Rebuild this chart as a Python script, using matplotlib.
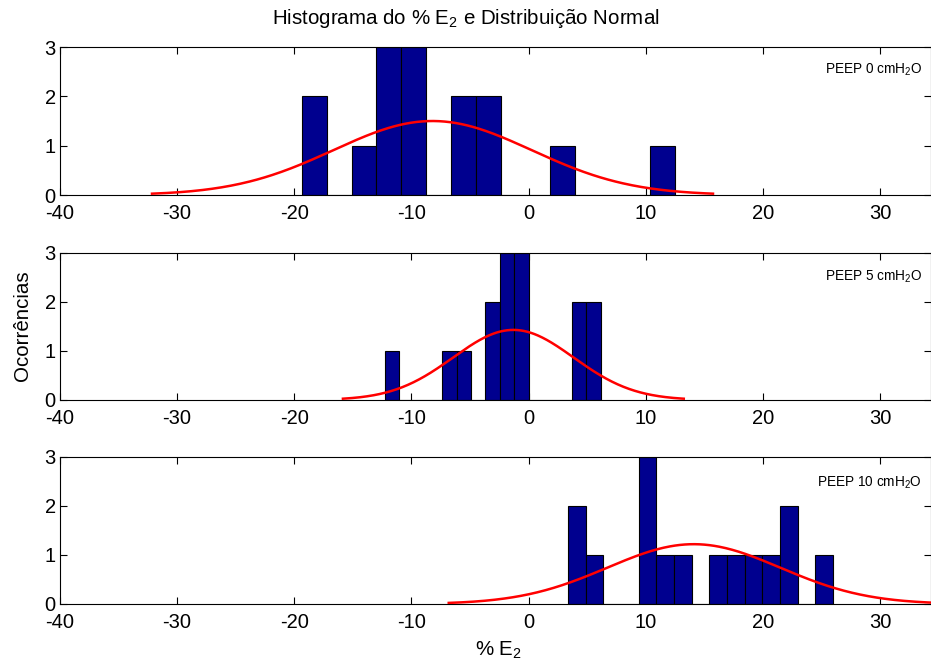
import numpy as np
import matplotlib
matplotlib.use("Agg")
import matplotlib.pyplot as plt

plt.rcParams["font.family"] = ["Liberation Sans", "DejaVu Sans"]
plt.rcParams["mathtext.fontset"] = "custom"
plt.rcParams["mathtext.rm"] = "Liberation Sans"
plt.rcParams["mathtext.it"] = "Liberation Sans"
plt.rcParams["axes.unicode_minus"] = False

# Histogram bins (first edge, bin width) and counts per PEEP level
labels = ["PEEP 0 cmH$_2$O", "PEEP 5 cmH$_2$O", "PEEP 10 cmH$_2$O"]
first_edge = [-19.35, -12.28, 3.38]
bin_width = [2.121, 1.228, 1.507]
counts_peep0 = [2, 0, 1, 3, 3, 0, 2, 2, 0, 0, 1, 0, 0, 0, 1]
counts_peep5 = [1, 0, 0, 0, 1, 1, 0, 2, 3, 3, 0, 0, 0, 2, 2]
counts_peep10 = [2, 1, 0, 0, 3, 1, 1, 0, 1, 1, 1, 1, 2, 0, 1]
counts = [counts_peep0, counts_peep5, counts_peep10]

# Fitted normal distribution (mean, std) of each sample
mu = [-8.2, -1.3, 14.1]
sigma = [8.46, 5.14, 7.39]
span = 2.83  # curve drawn over mean +/- span*sigma

xticks = [-40, -30, -20, -10, 0, 10, 20, 30]
yticks = [0, 1, 2, 3]

fig = plt.figure(figsize=(9.31, 6.72), dpi=100)
positions = [
    [0.0644, 0.7098, 0.9356, 0.2202],
    [0.0644, 0.4048, 0.9356, 0.2188],
    [0.0644, 0.1012, 0.9356, 0.2188],
]
label_y = [0.845, 0.837, 0.823]

axes = []
for i in range(3):
    ax = fig.add_axes(positions[i])
    c = np.array(counts[i], dtype=float)
    n = c.sum()
    lefts = first_edge[i] + bin_width[i] * np.arange(len(c))
    ax.bar(lefts, c, width=bin_width[i], align="edge",
           color="#00008F", edgecolor="black", linewidth=0.8, zorder=2)
    xs = np.linspace(mu[i] - span * sigma[i], mu[i] + span * sigma[i], 300)
    pdf = np.exp(-0.5 * ((xs - mu[i]) / sigma[i]) ** 2) / (sigma[i] * np.sqrt(2 * np.pi))
    ax.plot(xs, n * bin_width[i] * pdf, color="red", linewidth=1.8, zorder=3)
    ax.set_xlim(-40, 34.35)
    ax.set_ylim(0, 3)
    ax.set_xticks(xticks)
    ax.set_yticks(yticks)
    ax.tick_params(direction="in", length=5, labelsize=14.5, top=True, right=True,
                   width=0.8)
    ax.tick_params(axis="x", pad=6.5)
    ax.tick_params(axis="y", pad=3)
    for s in ax.spines.values():
        s.set_linewidth(0.8)
    ax.text(0.99, label_y[i], labels[i], transform=ax.transAxes,
            ha="right", va="center", fontsize=9.8)
    axes.append(ax)

fig.text(0.5, 0.972, "Histograma do % E$_2$ e Distribuição Normal",
         ha="center", va="center", fontsize=14.8)
fig.text(0.535, 0.032, "% E$_2$", ha="center", va="center", fontsize=14.8)
fig.text(0.024, 0.515, "Ocorrências", ha="center", va="center",
         rotation=90, fontsize=14.8)

fig.savefig("out.png", dpi=100)
